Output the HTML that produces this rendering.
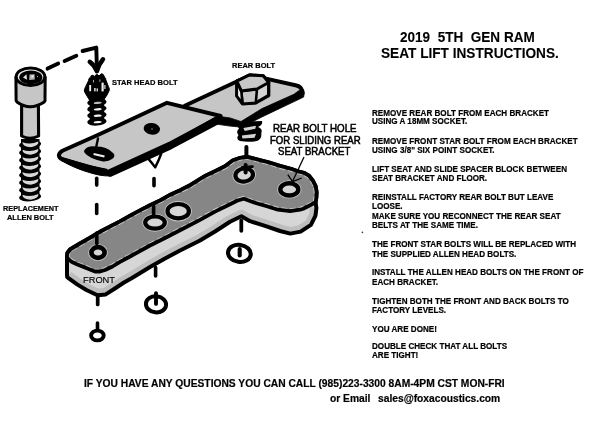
<!DOCTYPE html>
<html><head><meta charset="utf-8">
<title>2019 5TH GEN RAM SEAT LIFT INSTRUCTIONS</title>
<style>
html,body{margin:0;padding:0;background:#fff;}
body{width:600px;height:437px;position:relative;overflow:hidden;font-family:"Liberation Sans",sans-serif;color:#000;}
.t{position:absolute;white-space:pre;font-weight:bold;line-height:1;transform-origin:0 50%;-webkit-text-stroke:0.2px #000;will-change:transform;}
.m{font-weight:normal;-webkit-text-stroke:0.5px #000;}
svg{position:absolute;left:0;top:0;}
</style></head><body>
<svg width="600" height="437" viewBox="0 0 600 437">
<clipPath id="cs"><path d="M67,257 L67.4,253 L70,249.5 L80,243.5 L90,237.8 L100,231.8 L110,226.6 L120,221.4 L130,215.8 L140,210.4 L150,205.2 L160,200.6 L170,194.9 L180,190.4 L190,185.3 L205,176 L215,171.2 L225,166.3 L233,160.3 L240,158 L246.7,156.8 L257,159.4 L269,162.5 L281,166.2 L293,169.5 L298,171.4 L304.4,173 L309,175.8 L312.8,180.6 L315.6,186.2 L316.6,192 L316.3,198 L315.6,202.3 L316.4,208 L315.5,215.6 L310.9,224.9 L300.6,231.6 L290.3,233.6 L280,231 L265,225.8 L250,221.2 L241.4,216.3 L230,221.8 L215,231.5 L200,240.5 L180,250.5 L165,258.5 L150,267 L132,278 L124,282.5 L114.9,288.5 L105.7,294.4 L97.5,295.3 L86.4,290 L77.5,284.6 L68.8,278.4 L67.2,277 L67,274 Z"/></clipPath>
<path d="M67,257 L67.4,253 L70,249.5 L80,243.5 L90,237.8 L100,231.8 L110,226.6 L120,221.4 L130,215.8 L140,210.4 L150,205.2 L160,200.6 L170,194.9 L180,190.4 L190,185.3 L205,176 L215,171.2 L225,166.3 L233,160.3 L240,158 L246.7,156.8 L257,159.4 L269,162.5 L281,166.2 L293,169.5 L298,171.4 L304.4,173 L309,175.8 L312.8,180.6 L315.6,186.2 L316.6,192 L316.3,198 L315.6,202.3 L316.4,208 L315.5,215.6 L310.9,224.9 L300.6,231.6 L290.3,233.6 L280,231 L265,225.8 L250,221.2 L241.4,216.3 L230,221.8 L215,231.5 L200,240.5 L180,250.5 L165,258.5 L150,267 L132,278 L124,282.5 L114.9,288.5 L105.7,294.4 L97.5,295.3 L86.4,290 L77.5,284.6 L68.8,278.4 L67.2,277 L67,274 Z" fill="#d6d6d6"/>
<path d="M316.4,208 L315.5,215.6 L310.9,224.9 L300.6,231.6 L290.3,233.6 L280,231 L265,225.8 L250,221.2 L241.4,216.3 L230,221.8 L215,231.5 L200,240.5 L180,250.5 L165,258.5 L150,267 L132,278 L124,282.5 L114.9,288.5 L105.7,294.4 L97.5,295.3 L86.4,290 L77.5,284.6 L68.8,278.4 L67.2,277 L67,274" fill="none" stroke="#bebebe" stroke-width="13" clip-path="url(#cs)" stroke-linejoin="round"/>
<path d="M67,257 L67.4,253 L70,249.5 L80,243.5 L90,237.8 L100,231.8 L110,226.6 L120,221.4 L130,215.8 L140,210.4 L150,205.2 L160,200.6 L170,194.9 L180,190.4 L190,185.3 L205,176 L215,171.2 L225,166.3 L233,160.3 L240,158 L246.7,156.8 L257,159.4 L269,162.5 L281,166.2 L293,169.5 L298,171.4 L304.4,173 L309,175.8 L312.8,180.6 L315.6,186.2 L316.6,192 L316.3,198 L315.6,202.3 L316.4,208 L315.5,215.6 L310.9,224.9 L300.6,231.6 L290.3,233.6 L280,231 L265,225.8 L250,221.2 L241.4,216.3 L230,221.8 L215,231.5 L200,240.5 L180,250.5 L165,258.5 L150,267 L132,278 L124,282.5 L114.9,288.5 L105.7,294.4 L97.5,295.3 L86.4,290 L77.5,284.6 L68.8,278.4 L67.2,277 L67,274 Z" fill="none" stroke="#000" stroke-width="4" stroke-linejoin="round"/>
<clipPath id="ct"><path d="M67,257 L67.4,253 L70,249.5 L80,243.5 L90,237.8 L100,231.8 L110,226.6 L120,221.4 L130,215.8 L140,210.4 L150,205.2 L160,200.6 L170,194.9 L180,190.4 L190,185.3 L205,176 L215,171.2 L225,166.3 L233,160.3 L240,158 L246.7,156.8 L257,159.4 L269,162.5 L281,166.2 L293,169.5 L298,171.4 L304.4,173 L309,175.8 L312.8,180.6 L315.6,186.2 L316.6,192 L316.3,198 L315.6,202.3 L309.6,205.5 L303.2,208.7 L300,209.7 L290,211.2 L278,209.7 L266,206 L254,202.5 L248,200.3 L243.7,198.8 L237,200.8 L230,204.3 L215,211.6 L200,219.8 L180,230.2 L165,238 L150,245.5 L130,256.5 L120,261.9 L112.5,266.5 L105,270 L100,271.5 L95,271.5 L88,268.8 L77.5,264.6 L72,262 L67.4,258.5 Z"/></clipPath>
<path d="M67,257 L67.4,253 L70,249.5 L80,243.5 L90,237.8 L100,231.8 L110,226.6 L120,221.4 L130,215.8 L140,210.4 L150,205.2 L160,200.6 L170,194.9 L180,190.4 L190,185.3 L205,176 L215,171.2 L225,166.3 L233,160.3 L240,158 L246.7,156.8 L257,159.4 L269,162.5 L281,166.2 L293,169.5 L298,171.4 L304.4,173 L309,175.8 L312.8,180.6 L315.6,186.2 L316.6,192 L316.3,198 L315.6,202.3 L309.6,205.5 L303.2,208.7 L300,209.7 L290,211.2 L278,209.7 L266,206 L254,202.5 L248,200.3 L243.7,198.8 L237,200.8 L230,204.3 L215,211.6 L200,219.8 L180,230.2 L165,238 L150,245.5 L130,256.5 L120,261.9 L112.5,266.5 L105,270 L100,271.5 L95,271.5 L88,268.8 L77.5,264.6 L72,262 L67.4,258.5 Z" fill="#868686"/>
<path d="M67,257 L67.4,253 L70,249.5 L80,243.5 L90,237.8 L100,231.8 L110,226.6 L120,221.4 L130,215.8 L140,210.4 L150,205.2 L160,200.6 L170,194.9 L180,190.4 L190,185.3 L205,176 L215,171.2 L225,166.3 L233,160.3 L240,158 L246.7,156.8 L257,159.4 L269,162.5 L281,166.2 L293,169.5 L298,171.4 L304.4,173 L309,175.8 L312.8,180.6 L315.6,186.2 L316.6,192 L316.3,198 L315.6,202.3 L309.6,205.5 L303.2,208.7 L300,209.7 L290,211.2 L278,209.7 L266,206 L254,202.5 L248,200.3 L243.7,198.8 L237,200.8 L230,204.3 L215,211.6 L200,219.8 L180,230.2 L165,238 L150,245.5 L130,256.5 L120,261.9 L112.5,266.5 L105,270 L100,271.5 L95,271.5 L88,268.8 L77.5,264.6 L72,262 L67.4,258.5 Z" fill="none" stroke="#cccccc" stroke-width="5.6" stroke-dasharray="6 3" clip-path="url(#ct)"/>
<path d="M67,257 L67.4,253 L70,249.5 L80,243.5 L90,237.8 L100,231.8 L110,226.6 L120,221.4 L130,215.8 L140,210.4 L150,205.2 L160,200.6 L170,194.9 L180,190.4 L190,185.3 L205,176 L215,171.2 L225,166.3 L233,160.3 L240,158 L246.7,156.8 L257,159.4 L269,162.5 L281,166.2 L293,169.5 L298,171.4 L304.4,173 L309,175.8 L312.8,180.6 L315.6,186.2 L316.6,192 L316.3,198 L315.6,202.3 L309.6,205.5 L303.2,208.7 L300,209.7 L290,211.2 L278,209.7 L266,206 L254,202.5 L248,200.3 L243.7,198.8 L237,200.8 L230,204.3 L215,211.6 L200,219.8 L180,230.2 L165,238 L150,245.5 L130,256.5 L120,261.9 L112.5,266.5 L105,270 L100,271.5 L95,271.5 L88,268.8 L77.5,264.6 L72,262 L67.4,258.5 Z" fill="none" stroke="#000" stroke-width="3.8" stroke-linejoin="round"/>
<ellipse cx="98" cy="252.5" rx="9.799999999999999" ry="8.6" fill="#c4c4c4" transform="rotate(0 98 252.5)"/>
<ellipse cx="98" cy="252.5" rx="6.6" ry="5.4" fill="#d6d6d6" stroke="#000" stroke-width="4.6" transform="rotate(0 98 252.5)"/>
<ellipse cx="155" cy="222.6" rx="12.8" ry="9.1" fill="#c4c4c4" transform="rotate(0 155 222.6)"/>
<ellipse cx="155" cy="222.6" rx="9.8" ry="6.1" fill="#d6d6d6" stroke="#000" stroke-width="4.2" transform="rotate(0 155 222.6)"/>
<ellipse cx="178.2" cy="211.2" rx="13.7" ry="10.200000000000001" fill="#c4c4c4" transform="rotate(0 178.2 211.2)"/>
<ellipse cx="178.2" cy="211.2" rx="10.7" ry="7.2" fill="#d6d6d6" stroke="#000" stroke-width="4.2" transform="rotate(0 178.2 211.2)"/>
<ellipse cx="244.2" cy="175" rx="11.8" ry="9.6" fill="#c4c4c4" transform="rotate(-8 244.2 175)"/>
<ellipse cx="244.2" cy="175" rx="8.8" ry="6.6" fill="#d6d6d6" stroke="#000" stroke-width="4.2" transform="rotate(-8 244.2 175)"/>
<ellipse cx="289.3" cy="189.4" rx="12.1" ry="9.200000000000001" fill="#c4c4c4" transform="rotate(0 289.3 189.4)"/>
<ellipse cx="289.3" cy="189.4" rx="9" ry="6.1" fill="#d6d6d6" stroke="#000" stroke-width="4.4" transform="rotate(0 289.3 189.4)"/>
<line x1="96.7" y1="178.29999999999998" x2="96.7" y2="185.1" stroke="#000" stroke-width="3.6" stroke-linecap="round"/>
<line x1="96.7" y1="204.6" x2="96.7" y2="213.4" stroke="#000" stroke-width="3.6" stroke-linecap="round"/>
<line x1="96.8" y1="233.1" x2="96.8" y2="243.4" stroke="#000" stroke-width="3.6" stroke-linecap="round"/>
<line x1="154" y1="178.6" x2="154" y2="185.70000000000002" stroke="#000" stroke-width="3.6" stroke-linecap="round"/>
<line x1="153.6" y1="206.1" x2="153.6" y2="216.4" stroke="#000" stroke-width="3.6" stroke-linecap="round"/>
<line x1="155.6" y1="267.6" x2="155.6" y2="275.9" stroke="#000" stroke-width="3.6" stroke-linecap="round"/>
<line x1="241.3" y1="220.6" x2="241.3" y2="230.8" stroke="#000" stroke-width="3.8000000000000003" stroke-linecap="round"/>
<line x1="97.7" y1="295.6" x2="97.7" y2="304.4" stroke="#000" stroke-width="3.7" stroke-linecap="round"/>
<line x1="97.5" y1="323.1" x2="97.5" y2="329.4" stroke="#000" stroke-width="3.6" stroke-linecap="round"/>
<line x1="246.4" y1="147.1" x2="246.4" y2="154.9" stroke="#000" stroke-width="4.0" stroke-linecap="round"/>
<line x1="245.6" y1="165.1" x2="245.6" y2="172.4" stroke="#000" stroke-width="4.0" stroke-linecap="round"/>
<line x1="242" y1="167.2" x2="252.5" y2="166.6" stroke="#000" stroke-width="2.6" stroke-linecap="round"/>
<ellipse cx="239.4" cy="253.4" rx="11.4" ry="8.5" fill="#fff" stroke="#000" stroke-width="4.1" transform="rotate(8 239.4 253.4)"/>
<line x1="239.7" y1="249.1" x2="239.7" y2="255.4" stroke="#000" stroke-width="4.1" stroke-linecap="round"/>
<ellipse cx="156" cy="304.3" rx="10.1" ry="8.1" fill="#fff" stroke="#000" stroke-width="4.0" transform="rotate(6 156 304.3)"/>
<line x1="156" y1="293.1" x2="156" y2="303.9" stroke="#000" stroke-width="3.9" stroke-linecap="round"/>
<ellipse cx="97.4" cy="335.5" rx="6.3" ry="4.9" fill="#fff" stroke="#000" stroke-width="3.9" transform="rotate(0 97.4 335.5)"/>
<path d="M184.75,105.75 L252.5,76 L296.5,85.5 Q302,86.8 302.4,92 L245,122 L220.6,116 Z" fill="#c6c6c6"/>
<path d="M184.75,105.75 L240,80.1 M266,78.6 L296.5,85.5 Q301.6,86.8 302.2,91.5" fill="none" stroke="#000" stroke-width="3.9" stroke-linejoin="round" stroke-linecap="round"/>
<path d="M220.6,116.6 L230,117.9 L241,121.5 L262,108.6 L293.9,94.3 L299.5,90.2 L303.6,89.6 L304.4,93 L303.6,97.1 L262,116.9 L247,124.5 L240,127 L230,126.1 L217.5,124.3 Z" fill="#000" stroke="#000" stroke-width="0.8" stroke-linejoin="round"/>
<path d="M238,122 L262,121 Q263,125 258,127 Q263,129 261.3,133 Q262,139 257,141 Q248,142.5 240,141 Q235.5,139 238.5,135 Q235.5,132 239,128.5 Q236,125 238,122 Z" fill="#000"/>
<path d="M243.3,128 L256,125.8 L255.3,128.8 L244.8,131 Z" fill="#d4d4d4"/>
<path d="M241.8,135.5 L256,133.7 L254.5,137.8 L242.5,138.5 Z" fill="#d4d4d4"/>
<path d="M148,158.4 Q152,163 155.2,167.4 Q158.5,161 161.5,153" fill="#fff" stroke="#000" stroke-width="2.4" stroke-linejoin="round"/>
<path d="M58.8,155.2 Q59.6,152 63,150.5 L100,134 L167,102.8 L220.6,116 L170,144.5 L109.7,172.3 L62.6,159.6 Q59,158.2 58.8,155.2 Z" fill="#c6c6c6" stroke="#000" stroke-width="3.9" stroke-linejoin="round"/>
<path d="M219.5,119.2 L170,145.6 L110.5,172.8" fill="none" stroke="#000" stroke-width="7.8" stroke-linejoin="round" stroke-linecap="round"/>
<path d="M60,156.8 L75,161.3 L90,165.9 L107,169.3 L111,176 Q104,176 100,175.2 Q94,174 90,172.7 Q82,170.5 75,167.4 Q67,164 62,161 Q59,159 58.3,156.5 Z" fill="#000" stroke="#000" stroke-width="1" stroke-linejoin="round"/>
<ellipse cx="151.8" cy="128.8" rx="8.2" ry="5.8" fill="#000" transform="rotate(8 151.8 128.8)"/>
<circle cx="152" cy="129" r="1" fill="#555"/>
<path d="M84,151 Q85.5,147 92,146.2 L101,146.8 Q106,147.5 109.5,150 L113.6,153.4 Q115.6,156 112.5,158.8 Q108.5,161.8 103,161.4 L97,160 Q91,158.4 88,155.8 Q84,153 84,151 Z" fill="#000"/>
<path d="M93.8,153 L104.8,155.4 L104.2,157.4 L93.3,155 Z" fill="#eee"/>
<line x1="98" y1="138.5" x2="96.2" y2="147" stroke="#000" stroke-width="2.4" stroke-linecap="round"/>
<path d="M236.8,81.2 L249.5,75 L263.2,75.8 L268.7,82.5 L268.7,95.5 L255.8,102.9 L242.5,103.8 L236.8,95.9 Z" fill="#d4d4d4" stroke="#000" stroke-width="3.3" stroke-linejoin="round"/>
<path d="M241.3,91 L257,89 L255.8,102.9 L242.5,103.8 Z" fill="#c6c6c6" stroke="#000" stroke-width="2.6" stroke-linejoin="round"/>
<path d="M236.8,81.2 L241.3,91 L242.5,103.8 L236.8,95.9 Z" fill="#f0f0f0" stroke="#000" stroke-width="2.6" stroke-linejoin="round"/>
<path d="M236.8,81.2 L249.5,75 L263.2,75.8 L268.7,82.5 L257,89 L241.3,91 Z" fill="#c8c8c8" stroke="#000" stroke-width="3" stroke-linejoin="round"/>
<path d="M88.5,80.8 Q88.5,78 90.5,77.2 L91.3,75.6 Q93,74.6 94.3,76.4 L96.3,74.6 Q98,74.2 99,76 L101.3,73.8 Q103.4,73.6 104,76 L104.8,77.6 Q106,78 105.8,79.8 L108.4,86.5 Q109.8,89 109.2,90.5 L107,95 L104.3,99 L104,101 L90,101 L88.5,98.5 L86.4,95 Q84,91.5 84.3,90 L85.7,86.5 Z" fill="#000" stroke="#000" stroke-width="1" stroke-linejoin="round"/>
<rect x="89.2" y="85" width="1.9" height="6.2" fill="#eee"/>
<rect x="94.2" y="88" width="1.4" height="3.4" fill="#eee"/>
<rect x="96.6" y="88.4" width="1.3" height="3" fill="#eee"/>
<rect x="101.5" y="82.6" width="2.2" height="8.8" fill="#eee"/>
<rect x="93" y="80" width="1" height="2.4" fill="#aaa"/>
<rect x="99.4" y="79.4" width="1" height="2.4" fill="#aaa"/>
<rect x="104.3" y="85" width="1.2" height="4" fill="#ddd"/>
<rect x="89.8" y="99" width="14.4" height="24.5" fill="#000"/>
<ellipse cx="96.9" cy="102.4" rx="9.7" ry="4" fill="#000" transform="rotate(-4 96.9 102.4)"/>
<ellipse cx="96.9" cy="108.7" rx="9.7" ry="4" fill="#000" transform="rotate(-4 96.9 108.7)"/>
<ellipse cx="96.9" cy="115.1" rx="9.7" ry="4" fill="#000" transform="rotate(-4 96.9 115.1)"/>
<ellipse cx="96.9" cy="121.6" rx="9.7" ry="4" fill="#000" transform="rotate(-4 96.9 121.6)"/>
<ellipse cx="97.7" cy="102.9" rx="4" ry="1.15" fill="#bbb" transform="rotate(-4 97.7 102.9)"/>
<ellipse cx="97.7" cy="109.3" rx="4" ry="1.15" fill="#f4f4f4" transform="rotate(-4 97.7 109.3)"/>
<ellipse cx="97.7" cy="115.7" rx="4" ry="1.15" fill="#f4f4f4" transform="rotate(-4 97.7 115.7)"/>
<ellipse cx="97.7" cy="122.1" rx="4" ry="1.15" fill="#f4f4f4" transform="rotate(-4 97.7 122.1)"/>
<path d="M47.6,68.6 L58.2,63.6 M64.6,61 L76.3,55.8 M82.6,51 L96.3,47.6 L96.9,69" fill="none" stroke="#000" stroke-width="3.9" stroke-linejoin="round" stroke-linecap="round"/>
<path d="M89.8,61.8 Q94.5,65 96.9,71.2 Q99,64 103,59.3" fill="none" stroke="#000" stroke-width="4.5" stroke-linecap="round" stroke-linejoin="round"/>
<path d="M21.6,104 L21.6,136 Q30,140.5 38.6,136 L38.4,104 Z" fill="#c6c6c6" stroke="#000" stroke-width="3.1" stroke-linejoin="round"/>
<rect x="21" y="139" width="18.5" height="58" fill="#000"/>
<ellipse cx="30.1" cy="144.5" rx="11.1" ry="4.3" fill="#000" transform="rotate(-5 30.1 144.5)"/>
<path d="M22.4,142.3 Q30.3,145.0 38.3,141.6 Q39.2,145.9 30.8,147.2 Q22.5,146.9 22.4,142.3 Z" fill="#d8d8d8"/>
<ellipse cx="30.1" cy="152.0" rx="11.1" ry="4.3" fill="#000" transform="rotate(-5 30.1 152.0)"/>
<path d="M22.4,149.8 Q30.3,152.5 38.3,149.1 Q39.2,153.4 30.8,154.7 Q22.5,154.4 22.4,149.8 Z" fill="#d8d8d8"/>
<ellipse cx="30.1" cy="159.5" rx="11.1" ry="4.3" fill="#000" transform="rotate(-5 30.1 159.5)"/>
<path d="M22.4,157.3 Q30.3,160.0 38.3,156.6 Q39.2,160.9 30.8,162.2 Q22.5,161.9 22.4,157.3 Z" fill="#d8d8d8"/>
<ellipse cx="30.1" cy="167.0" rx="11.1" ry="4.3" fill="#000" transform="rotate(-5 30.1 167.0)"/>
<path d="M22.4,164.8 Q30.3,167.5 38.3,164.1 Q39.2,168.4 30.8,169.7 Q22.5,169.4 22.4,164.8 Z" fill="#d8d8d8"/>
<ellipse cx="30.1" cy="174.5" rx="11.1" ry="4.3" fill="#000" transform="rotate(-5 30.1 174.5)"/>
<path d="M22.4,172.3 Q30.3,175.0 38.3,171.6 Q39.2,175.9 30.8,177.2 Q22.5,176.9 22.4,172.3 Z" fill="#d8d8d8"/>
<ellipse cx="30.1" cy="182.0" rx="11.1" ry="4.3" fill="#000" transform="rotate(-5 30.1 182.0)"/>
<path d="M22.4,179.8 Q30.3,182.5 38.3,179.1 Q39.2,183.4 30.8,184.7 Q22.5,184.4 22.4,179.8 Z" fill="#d8d8d8"/>
<ellipse cx="30.1" cy="189.5" rx="11.1" ry="4.3" fill="#000" transform="rotate(-5 30.1 189.5)"/>
<path d="M22.4,187.3 Q30.3,190.0 38.3,186.6 Q39.2,190.9 30.8,192.2 Q22.5,191.9 22.4,187.3 Z" fill="#d8d8d8"/>
<ellipse cx="30.1" cy="197.0" rx="11.1" ry="4.3" fill="#000" transform="rotate(-5 30.1 197.0)"/>
<path d="M22.4,194.8 Q30.3,197.5 38.3,194.1 Q39.2,198.4 30.8,199.7 Q22.5,199.4 22.4,194.8 Z" fill="#d8d8d8"/>
<path d="M15.9,77 L16.1,98 Q15.6,100.5 17,102 Q30,111.5 44.2,102 Q45.6,100.5 45,98 L45.2,77 Z" fill="#c6c6c6" stroke="#000" stroke-width="3" stroke-linejoin="round"/>
<ellipse cx="30.5" cy="76.7" rx="14.3" ry="8.8" fill="#ededed" stroke="#000" stroke-width="3"/>
<ellipse cx="30.8" cy="77.4" rx="11.6" ry="6.8" fill="#000"/>
<path d="M29.5,74.5 L34.5,74.2 L34.8,79.6 L29.2,80 Z" fill="#b4b4b4"/>
<path d="M31.5,75.5 L33.5,75.3 L33.6,77.3 L31.6,77.5 Z" fill="#eee"/>
<path d="M23,77.5 L26.5,74.3 L27,79.8 Z" fill="#e4e4e4"/>
<path d="M36.8,75.8 L38,76.3 L37.5,77.6 Z" fill="#ddd"/>
<line x1="304" y1="157" x2="292.5" y2="181.5" stroke="#000" stroke-width="1.3"/>
<path d="M287.8,174.7 L292.5,181.7 L301.8,178" fill="none" stroke="#000" stroke-width="1.3"/>
<circle cx="362.4" cy="232.4" r="0.8" fill="#333"/>
</svg>
<div class="t " style="left:399.6px;top:31.24px;font-size:13.55px;transform:scaleY(1.06);transform-origin:0 84.6%;-webkit-text-stroke:0.1px #000;">2019  5TH  GEN RAM</div>
<div class="t " style="left:380.8px;top:47.03px;font-size:13.65px;transform:scaleY(1.06);transform-origin:0 84.6%;-webkit-text-stroke:0.1px #000;">SEAT LIFT INSTRUCTIONS.</div>
<div class="t " style="left:371.6px;top:109.85px;font-size:8.1px;transform:scaleY(1.09);transform-origin:0 84.6%;">REMOVE REAR BOLT FROM EACH BRACKET</div>
<div class="t " style="left:371.6px;top:118.45px;font-size:8.1px;transform:scaleY(1.09);transform-origin:0 84.6%;">USING A 18MM SOCKET.</div>
<div class="t " style="left:371.6px;top:137.55px;font-size:8.1px;transform:scaleY(1.09);transform-origin:0 84.6%;">REMOVE FRONT STAR BOLT FROM EACH BRACKET</div>
<div class="t " style="left:371.6px;top:147.05px;font-size:8.1px;transform:scaleY(1.09);transform-origin:0 84.6%;">USING 3/8" SIX POINT SOCKET.</div>
<div class="t " style="left:371.6px;top:165.75px;font-size:8.1px;transform:scaleY(1.09);transform-origin:0 84.6%;">LIFT SEAT AND SLIDE SPACER BLOCK BETWEEN</div>
<div class="t " style="left:371.6px;top:175.05px;font-size:8.1px;transform:scaleY(1.09);transform-origin:0 84.6%;">SEAT BRACKET AND FLOOR.</div>
<div class="t " style="left:371.6px;top:194.15px;font-size:8.1px;transform:scaleY(1.09);transform-origin:0 84.6%;">REINSTALL FACTORY REAR BOLT BUT LEAVE</div>
<div class="t " style="left:371.6px;top:203.45px;font-size:8.1px;transform:scaleY(1.09);transform-origin:0 84.6%;">LOOSE.</div>
<div class="t " style="left:371.6px;top:212.75px;font-size:8.1px;transform:scaleY(1.09);transform-origin:0 84.6%;">MAKE SURE YOU RECONNECT THE REAR SEAT</div>
<div class="t " style="left:371.6px;top:221.95px;font-size:8.1px;transform:scaleY(1.09);transform-origin:0 84.6%;">BELTS AT THE SAME TIME.</div>
<div class="t " style="left:371.6px;top:241.05px;font-size:8.1px;transform:scaleY(1.09);transform-origin:0 84.6%;">THE FRONT STAR BOLTS WILL BE REPLACED WITH</div>
<div class="t " style="left:371.6px;top:250.55px;font-size:8.1px;transform:scaleY(1.09);transform-origin:0 84.6%;">THE SUPPLIED ALLEN HEAD BOLTS.</div>
<div class="t " style="left:371.6px;top:269.45px;font-size:8.1px;transform:scaleY(1.09);transform-origin:0 84.6%;">INSTALL THE ALLEN HEAD BOLTS ON THE FRONT OF</div>
<div class="t " style="left:371.6px;top:278.75px;font-size:8.1px;transform:scaleY(1.09);transform-origin:0 84.6%;">EACH BRACKET.</div>
<div class="t " style="left:371.6px;top:297.55px;font-size:8.1px;transform:scaleY(1.09);transform-origin:0 84.6%;">TIGHTEN BOTH THE FRONT AND BACK BOLTS TO</div>
<div class="t " style="left:371.6px;top:307.05px;font-size:8.1px;transform:scaleY(1.09);transform-origin:0 84.6%;">FACTORY LEVELS.</div>
<div class="t " style="left:371.6px;top:325.95px;font-size:8.1px;transform:scaleY(1.09);transform-origin:0 84.6%;">YOU ARE DONE!</div>
<div class="t " style="left:372.3px;top:342.65px;font-size:8.1px;transform:scaleY(1.09);transform-origin:0 84.6%;">DOUBLE CHECK THAT ALL BOLTS</div>
<div class="t " style="left:372.3px;top:352.45px;font-size:8.1px;transform:scaleY(1.09);transform-origin:0 84.6%;">ARE TIGHT!</div>
<div class="t " style="left:84px;top:379.17px;font-size:10.25px;">IF YOU HAVE ANY QUESTIONS YOU CAN CALL (985)223-3300 8AM-4PM CST MON-FRI</div>
<div class="t " style="left:330px;top:393.97px;font-size:10.25px;">or Email</div>
<div class="t " style="left:378.4px;top:393.97px;font-size:10.25px;">sales@foxacoustics.com</div>
<div class="t " style="left:112px;top:78.62px;font-size:7.55px;transform:scaleY(1.07);transform-origin:0 84.6%;">STAR HEAD BOLT</div>
<div class="t " style="left:231.6px;top:62.02px;font-size:7.5px;transform:scaleY(1.07);transform-origin:0 84.6%;">REAR BOLT</div>
<div class="t " style="left:3.3px;top:205.05px;font-size:7.3px;transform:scaleY(1.07);transform-origin:0 84.6%;">REPLACEMENT</div>
<div class="t " style="left:7.2px;top:213.83px;font-size:7.45px;transform:scaleY(1.07);transform-origin:0 84.6%;">ALLEN BOLT</div>
<div class="t m" style="left:272.7px;top:124.43px;font-size:9.75px;transform:scaleY(1.04);transform-origin:0 84.6%;">REAR BOLT HOLE</div>
<div class="t m" style="left:269.9px;top:135.55px;font-size:9.6px;transform:scaleY(1.04);transform-origin:0 84.6%;">FOR SLIDING REAR</div>
<div class="t m" style="left:278px;top:146.55px;font-size:9.65px;transform:scaleY(1.04);transform-origin:0 84.6%;">SEAT BRACKET</div>
<div class="t m" style="left:82.8px;top:275.59px;font-size:9.3px;-webkit-text-stroke:0.15px #000;transform:scaleY(1.06);transform-origin:0 84.6%;">FRONT</div>
</body></html>
